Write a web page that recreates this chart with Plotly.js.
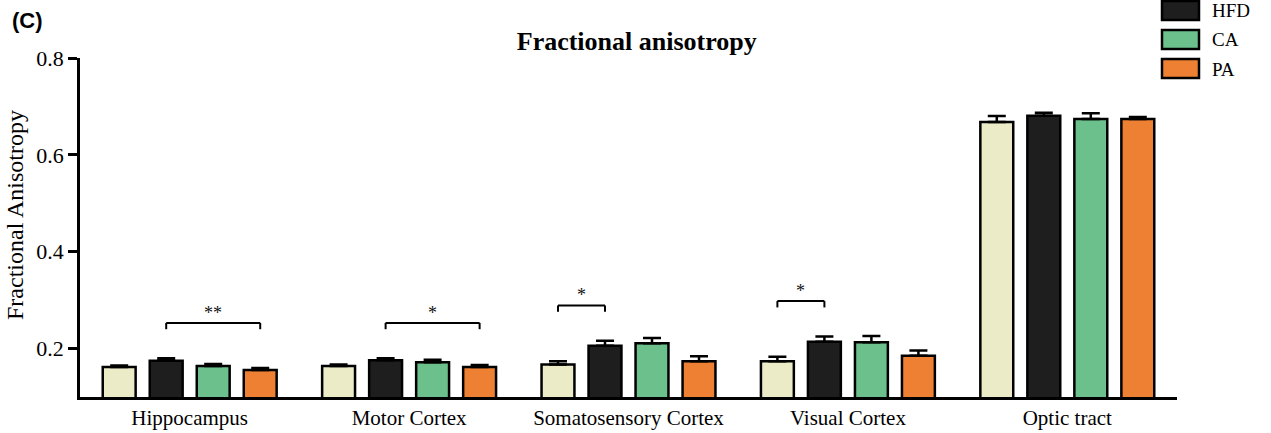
<!DOCTYPE html>
<html>
<head>
<meta charset="utf-8">
<script src="https://cdn.plot.ly/plotly-3.0.1.min.js"></script>
<style>html,body{margin:0;padding:0;background:#fff;}#chart{width:1271px;height:433px;}</style>
</head>
<body>
<div id="chart"></div>
<script>
// ---- data ----
const regions = ["Hippocampus", "Motor Cortex", "Somatosensory Cortex", "Visual Cortex", "Optic tract"];
const seriesNames = ["Control", "HFD", "CA", "PA"];
const controlMean = [0.162, 0.164, 0.167, 0.174, 0.668];
const controlSem  = [0.003, 0.003, 0.007, 0.009, 0.012];
const hfdMean = [0.175, 0.176, 0.206, 0.214, 0.681];
const hfdSem  = [0.005, 0.004, 0.010, 0.011, 0.006];
const caMean = [0.164, 0.172, 0.211, 0.213, 0.674];
const caSem  = [0.004, 0.005, 0.011, 0.013, 0.012];
const paMean = [0.156, 0.162, 0.174, 0.185, 0.674];
const paSem  = [0.004, 0.004, 0.010, 0.011, 0.004];
// significance: [region index, from series, to series, label]
const sigRegion = [0, 1, 2, 3];
const sigFrom   = [1, 1, 0, 0];
const sigTo     = [3, 3, 1, 1];
const sigLabel  = ["**", "*", "*", "*"];
const yTicks = [0.2, 0.4, 0.6, 0.8];

// ---- style ----
const colors = ["#EBEBC8", "#1E1E1E", "#6CC08B", "#EE8033"];
const serif = "Liberation Serif, Times New Roman, serif";
const means = [controlMean, hfdMean, caMean, paMean];
const sems = [controlSem, hfdSem, caSem, paSem];
const bargap = 0.143, bargroupgap = 0.3;
const nS = means.length;
const slot = (1 - bargap) / nS;
const offset = i => -(1 - bargap) / 2 + slot * (i + 0.5);

const traces = means.map((m, i) => ({
  type: "bar",
  name: seriesNames[i],
  x: regions,
  y: m,
  marker: {color: colors[i], line: {color: "#000", width: 2.5}},
  error_y: {type: "data", array: sems[i], arrayminus: m.map(() => 0), symmetric: false,
            color: "#000", thickness: 2.5, width: 9},
  showlegend: false,
  hoverinfo: "x+y+name"
}));

const shapes = [];
const annotations = [];
const line = {color: "#000", width: 2};
sigRegion.forEach((r, k) => {
  const a = sigFrom[k], b = sigTo[k];
  let top = 0;
  for (let s = a; s <= b; s++) top = Math.max(top, means[s][r] + sems[s][r]);
  const yTop = top + 0.073, yEnd = yTop - 0.013;
  const x0 = r + offset(a), x1 = r + offset(b);
  shapes.push({type: "line", xref: "x", yref: "y", x0: x0, x1: x0, y0: yEnd, y1: yTop, line: line});
  shapes.push({type: "line", xref: "x", yref: "y", x0: x0, x1: x1, y0: yTop, y1: yTop, line: line});
  shapes.push({type: "line", xref: "x", yref: "y", x0: x1, x1: x1, y0: yEnd, y1: yTop, line: line});
  annotations.push({xref: "x", yref: "y", x: (x0 + x1) / 2, y: yTop, yanchor: "bottom", yshift: -2,
    text: sigLabel[k], showarrow: false, font: {family: serif, size: 18, color: "#111"}});
});

// custom legend (first entry lies above the visible page)
const plotL = 80, plotW = 1097, plotB = 397, plotH = 339;
const px2x = p => (p - plotL) / plotW;
const px2y = p => (plotB - p) / plotH;
seriesNames.forEach((n, i) => {
  if (i === 0) return;
  const top = 1 + (i - 1) * 29;
  shapes.push({type: "rect", xref: "paper", yref: "paper",
    x0: px2x(1162), x1: px2x(1199), y0: px2y(top + 19), y1: px2y(top),
    fillcolor: colors[i], line: {color: "#000", width: 2.5}});
  annotations.push({xref: "paper", yref: "paper", x: px2x(1210), y: px2y(top + 10),
    xanchor: "left", yanchor: "middle", text: n, showarrow: false,
    font: {family: serif, size: 19, color: "#000"}});
});

annotations.push({xref: "paper", yref: "paper", x: px2x(10), y: px2y(21), xanchor: "left", yanchor: "middle",
  text: "<b>(C)</b>", showarrow: false, font: {family: "Liberation Sans, Arial, sans-serif", size: 22, color: "#000"}});
annotations.push({xref: "paper", yref: "paper", x: px2x(15), y: px2y(215), xanchor: "center", yanchor: "middle",
  textangle: -90, text: "Fractional Anisotropy", showarrow: false,
  font: {family: serif, size: 24, color: "#000"}});

const layout = {
  width: 1271, height: 433,
  margin: {l: plotL, r: 1271 - plotL - plotW, t: plotB - plotH, b: 433 - plotB, pad: 0},
  paper_bgcolor: "#fff", plot_bgcolor: "#fff",
  title: {text: "<b>Fractional anisotropy</b>", xref: "container", x: 0.501, yref: "container",
          y: 1 - 41 / 433, yanchor: "middle", xanchor: "center",
          font: {family: serif, size: 26, color: "#000"}},
  barmode: "group", bargap: bargap, bargroupgap: bargroupgap,
  xaxis: {type: "category", range: [-0.5, regions.length - 0.5], showline: true, linecolor: "#000",
          linewidth: 2.5, ticks: "", showgrid: false, zeroline: false,
          tickfont: {family: serif, size: 21, color: "#000"}},
  yaxis: {range: [0.1, 0.8], tickvals: yTicks, ticktext: yTicks.map(v => v.toFixed(1)),
          showline: true, linecolor: "#000", linewidth: 2.5, ticks: "outside", ticklen: 9,
          tickwidth: 2.5, tickcolor: "#000", showgrid: false, zeroline: false,
          tickfont: {family: serif, size: 22, color: "#000"}},
  shapes: shapes,
  annotations: annotations
};

Plotly.newPlot("chart", traces, layout, {displayModeBar: false, responsive: false});
</script>
</body>
</html>
